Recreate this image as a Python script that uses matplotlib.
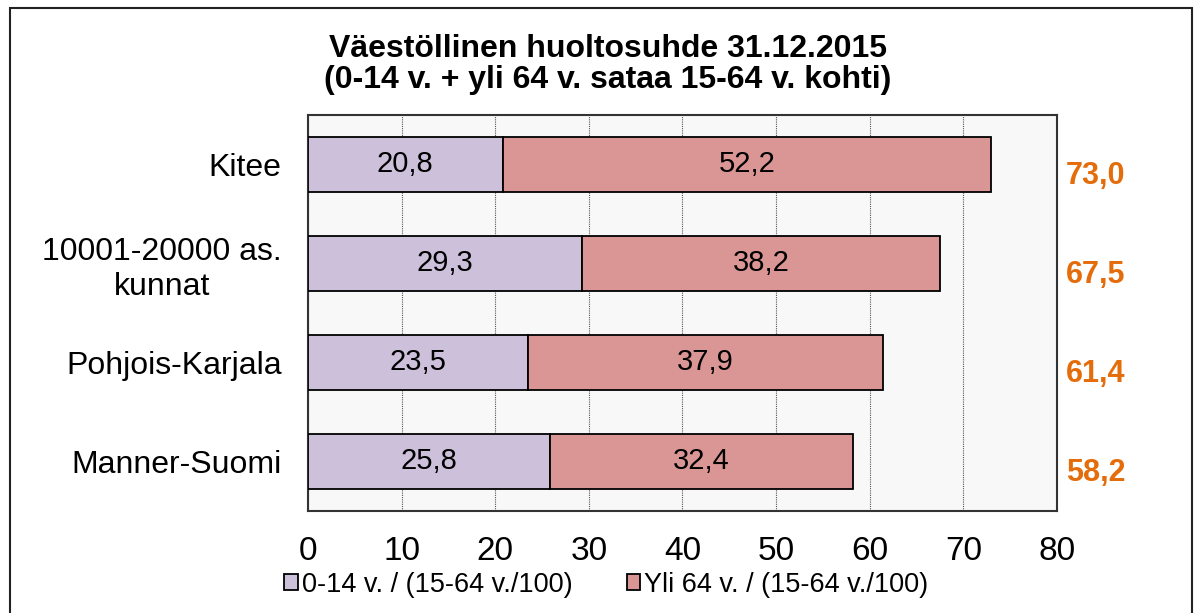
import matplotlib.pyplot as plt
from matplotlib.patches import Rectangle
from matplotlib.transforms import blended_transform_factory

plt.rcParams['font.family'] = ['Liberation Sans', 'DejaVu Sans']

categories = ['Kitee', '10001-20000 as.\nkunnat', 'Pohjois-Karjala', 'Manner-Suomi']
young = [20.8, 29.3, 23.5, 25.8]
old = [52.2, 38.2, 37.9, 32.4]
totals = [73.0, 67.5, 61.4, 58.2]
series_names = ['0-14 v. / (15-64 v./100)', 'Yli 64 v. / (15-64 v./100)']
title = 'Väestöllinen huoltosuhde 31.12.2015\n(0-14 v. + yli 64 v. sataa 15-64 v. kohti)'

fmt = lambda v: f'{v:.1f}'.replace('.', ',')

fig = plt.figure(figsize=(11.96, 6.13), dpi=100)
ax = fig.add_axes([0.2575, 0.1664, 0.6263, 0.646])
ax.set_facecolor('#F8F8F8')

# outer frame of the chart area
fig.patches.append(Rectangle((10 / 1196, -0.05), 1182 / 1196, 1 - 8 / 613 + 0.05,
                             transform=fig.transFigure, fill=False,
                             edgecolor='#222222', linewidth=1.5))

y = list(range(len(categories)))
b1 = ax.barh(y, young, height=0.55, color='#CCC0DA', edgecolor='black', linewidth=1.3,
             label=series_names[0], zorder=3)
b2 = ax.barh(y, old, left=young, height=0.55, color='#DA9694', edgecolor='black',
             linewidth=1.3, label=series_names[1], zorder=3)

for bars, vals in ((b1, young), (b2, old)):
    ax.bar_label(bars, labels=[fmt(v) for v in vals], label_type='center', fontsize=21)

trans = blended_transform_factory(ax.transAxes, ax.transData)
for yi, t in zip(y, totals):
    ax.text(1.012, yi + 0.12, fmt(t), transform=trans, ha='left', va='center',
            fontsize=22, fontweight='bold', color='#E46C0A')

ax.set_xlim(0, 80)
ax.set_xticks(range(0, 81, 10))
ax.set_ylim(3.5, -0.5)
ax.set_yticks(y)
ax.set_yticklabels(categories)
for lab in ax.get_yticklabels():
    lab.set_multialignment('center')
ax.tick_params(axis='x', labelsize=24, length=0, pad=18)
ax.tick_params(axis='y', labelsize=23, length=0, pad=19)
ax.xaxis.grid(True, linestyle=(0, (1, 1)), color='#555555', linewidth=0.8, zorder=0)
ax.set_axisbelow(True)
for s in ax.spines.values():
    s.set_linewidth(1.5)
    s.set_color('#333333')

fig.text(0.508, 0.895, title, ha='center', va='center', fontsize=23, fontweight='bold',
         linespacing=1.05)

fig.legend(handles=[b1, b2], loc='center', bbox_to_anchor=(0.507, 0.046), ncol=2,
           frameon=False, fontsize=19.5, handlelength=0.5, handleheight=0.5,
           handletextpad=0.15, columnspacing=2.0)

fig.savefig('out.png', dpi=100)
